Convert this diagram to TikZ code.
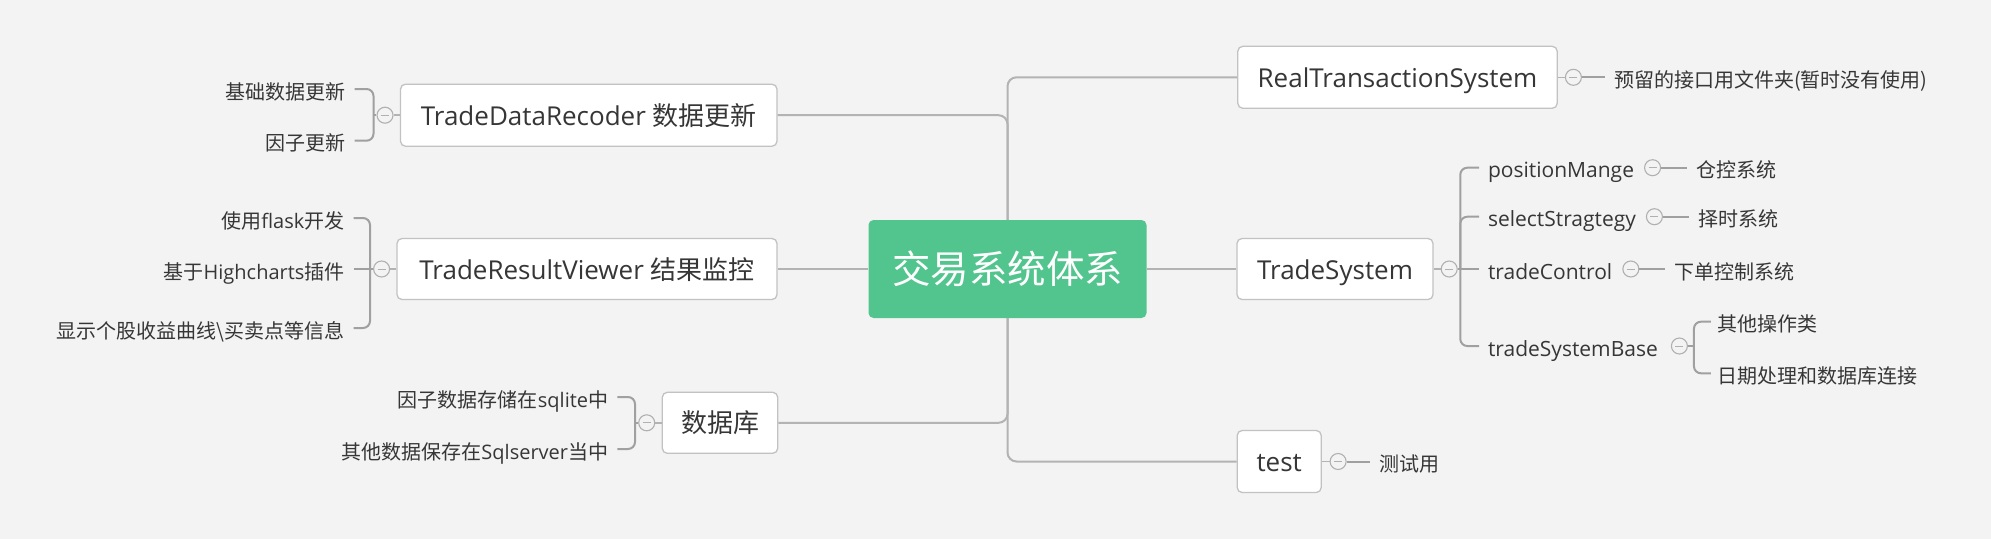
\documentclass[tikz,border=0pt]{standalone}
\usepackage{fontspec}
\setmainfont{Noto Sans CJK SC}
\newfontfamily\latfont{Open Sans}
\newcommand\LT[1]{{\latfont #1}}
\usetikzlibrary{positioning,calc}
\definecolor{bgc}{HTML}{F3F3F3}
\definecolor{trunkc}{HTML}{B3B3B3}
\definecolor{boxc}{HTML}{C2C2C2}
\definecolor{brkc}{HTML}{A0A0A0}
\definecolor{foldc}{HTML}{B0B0B0}
\definecolor{txtc}{HTML}{363636}
\definecolor{greenc}{RGB}{82,196,141}
\tikzset{
  central/.style={rectangle, rounded corners=5pt, fill=greenc, text=white, inner sep=0pt,
    minimum width=278pt, minimum height=98pt, font=\fontsize{38.5}{44}\selectfont,
    text height=30pt, text depth=1pt},
  topic/.style={rectangle, rounded corners=5pt, draw=boxc, fill=white, line width=1.3pt,
    text=txtc, inner sep=0pt, font=\fontsize{26}{30}\selectfont,
    text height=21pt, text depth=1pt},
  leaf/.style={text=txtc, inner xsep=9pt, inner ysep=0pt, font=\fontsize{20}{24}\selectfont,
    text height=20pt, text depth=0pt},
  subtopic/.style={leaf, anchor=west, inner xsep=8.8pt, font=\fontsize{21}{24}\selectfont},
  fold/.style={circle, draw=foldc, fill=bgc, line width=1.1pt, minimum size=16pt, inner sep=0pt,
    path picture={\draw[foldc, line width=1pt]
      ([xshift=-4pt]path picture bounding box.center) -- ([xshift=4pt]path picture bounding box.center);}},
  trunk/.style={draw=trunkc, line width=2pt},
  stub/.style={draw=trunkc, line width=1.5pt},
  brk/.style={draw=brkc, line width=2pt, rounded corners=7pt},
}
\begin{document}
\begin{tikzpicture}[x=1pt,y=-1pt]
\useasboundingbox (0,0) rectangle (1991,539);
\fill[bgc] (0,0) rectangle (1991,539);

% central
\node[central] (root) at (1007.5,269) {交易系统体系};

% main topics
\node[topic, minimum width=376.5pt, minimum height=62pt] (tdr) at (588.75,115.2) {\LT{TradeDataRecoder }数据更新};
\node[topic, minimum width=380pt, minimum height=61pt] (trv) at (587,269) {\LT{TradeResultViewer }结果监控};
\node[topic, minimum width=115.4pt, minimum height=61pt] (db) at (720,422.8) {数据库};
\node[topic, minimum width=319.4pt, minimum height=62pt] (rts) at (1397.5,77.3) {\LT{RealTransactionSystem}};
\node[topic, minimum width=196pt, minimum height=61pt] (ts) at (1335,269) {\LT{TradeSystem}};
\node[topic, minimum width=84pt, minimum height=62pt] (test) at (1279.2,461.5) {\LT{test}};

% trunk connectors
\draw[trunk, rounded corners=9pt] (root.north) |- (rts.west);
\draw[trunk, rounded corners=9pt] (root.north) |- (tdr.east);
\draw[trunk] (root.west) -- (trv.east);
\draw[trunk] (root.east) -- (ts.west);
\draw[trunk, rounded corners=9pt] (root.south) |- (db.east);
\draw[trunk, rounded corners=9pt] (root.south) |- (test.west);

% ---------- left: TradeDataRecoder ----------
\node[fold] (c1) at (385,115.2) {};
\coordinate (j1) at (373.5,115.2);
\node[leaf, anchor=east] (l11) at (354.6,89) {基础数据更新};
\node[leaf, anchor=east] (l12) at (354.6,140.7) {因子更新};
\draw[stub] (c1.east) -- (tdr.west);
\draw[brk] (l11.east) -| (j1) |- (l12.east);
\draw[brk] (j1) -- (c1.west);

% ---------- left: TradeResultViewer ----------
\node[fold] (c2) at (381.6,269) {};
\coordinate (j2) at (370,269);
\node[leaf, anchor=east] (l21) at (353.6,218) {使用\LT{flask}开发};
\node[leaf, anchor=east] (l22) at (353.6,269) {基于\LT{Highcharts}插件};
\node[leaf, anchor=east] (l23) at (353.6,328) {显示个股收益曲线\textbackslash 买卖点等信息};
\draw[stub] (c2.east) -- (trv.west);
\draw[brk] (l21.east) -| (j2) |- (l23.east);
\draw[brk] (l22.east) -- (c2.west);

% ---------- left: database ----------
\node[fold] (c3) at (646.7,422.8) {};
\coordinate (j3) at (635,422.8);
\node[leaf, anchor=east] (l31) at (617.3,397) {因子数据存储在\LT{sqlite}中};
\node[leaf, anchor=east] (l32) at (617.3,449) {其他数据保存在\LT{Sqlserver}当中};
\draw[stub] (c3.east) -- (db.west);
\draw[brk] (l31.east) -| (j3) |- (l32.east);
\draw[brk] (j3) -- (c3.west);

% ---------- right: RealTransactionSystem ----------
\node[fold, right=7pt of rts] (c7) {};
\node[leaf, right=23pt of c7] (t7) {预留的接口用文件夹(暂时没有使用)};
\draw[stub] (rts.east) -- (c7.west);
\draw[brk] (c7.east) -- (t7.west);

% ---------- right: TradeSystem ----------
\node[fold, right=7pt of ts] (c4) {};
\coordinate (j4) at (1460.3,269);
\node[subtopic] (s1) at (1479,167.7) {\LT{positionMange}};
\node[subtopic] (s2) at (1479,216.7) {\LT{selectStragtegy}};
\node[subtopic] (s3) at (1479,269) {\LT{tradeControl}};
\node[subtopic] (s4) at (1479,346) {\LT{tradeSystemBase}};
\draw[stub] (ts.east) -- (c4.west);
\draw[brk] (c4.east) -- (j4);
\draw[brk] (s1.west) -| (j4) |- (s4.west);
\draw[brk] (s2.west) -| (j4);
\draw[brk] (s3.west) -- (j4);

\node[fold, right=1pt of s1] (c5) {};
\node[leaf, right=26pt of c5] (t5) {仓控系统};
\draw[brk] (c5.east) -- (t5.west);

\node[fold, right=1pt of s2] (c6) {};
\node[leaf, right=26pt of c6] (t6) {择时系统};
\draw[brk] (c6.east) -- (t6.west);

\node[fold, right=1pt of s3] (c9) {};
\node[leaf, right=26pt of c9] (t9) {下单控制系统};
\draw[brk] (c9.east) -- (t9.west);

\node[fold, right=4pt of s4] (c10) {};
\coordinate (j10) at ([xshift=6pt]c10.east);
\coordinate (k10) at ([xshift=17pt]j10);
\node[leaf, anchor=west, inner xsep=6.5pt] (t10a) at (k10 |- 0,321.7) {其他操作类};
\node[leaf, anchor=west, inner xsep=6.5pt] (t10b) at (k10 |- 0,373.3) {日期处理和数据库连接};
\draw[brk] (c10.east) -- (j10);
\draw[brk] (t10a.west) -| (j10) |- (t10b.west);

% ---------- right: test ----------
\node[fold, right=7.7pt of test] (c8) {};
\node[leaf, right=23.6pt of c8] (t8) {测试用};
\draw[stub] (test.east) -- (c8.west);
\draw[brk] (c8.east) -- (t8.west);
\end{tikzpicture}
\end{document}
